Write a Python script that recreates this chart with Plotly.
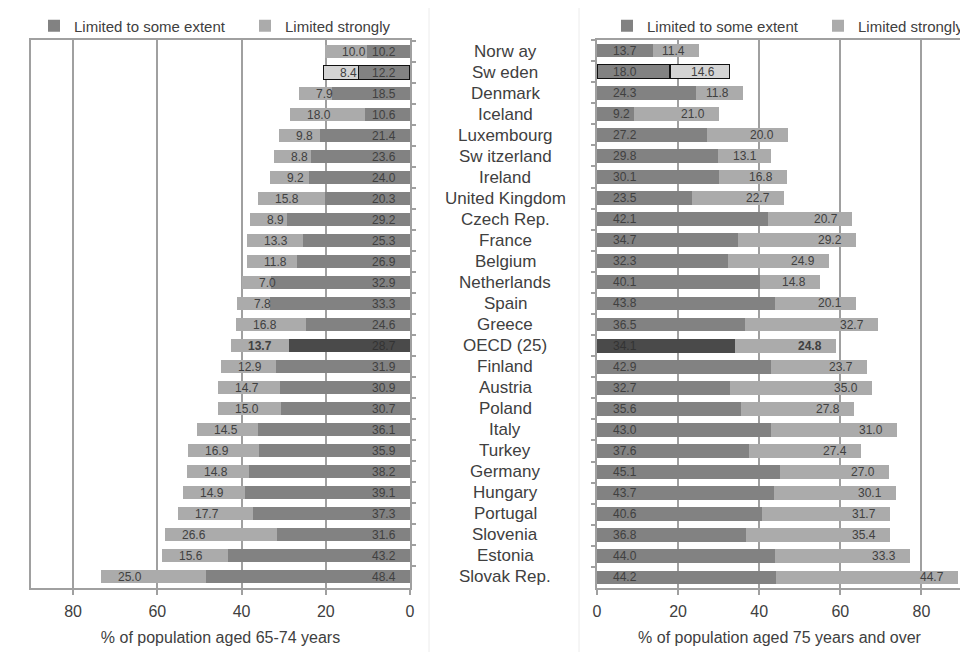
import plotly.graph_objects as go

countries = ["Norw ay", "Sw eden", "Denmark", "Iceland", "Luxembourg", "Sw itzerland", "Ireland",
             "United Kingdom", "Czech Rep.", "France", "Belgium", "Netherlands", "Spain", "Greece",
             "OECD (25)", "Finland", "Austria", "Poland", "Italy", "Turkey", "Germany", "Hungary",
             "Portugal", "Slovenia", "Estonia", "Slovak Rep."]

some_6574 = [10.2, 12.2, 18.5, 10.6, 21.4, 23.6, 24.0, 20.3, 29.2, 25.3, 26.9, 32.9, 33.3, 24.6,
             28.7, 31.9, 30.9, 30.7, 36.1, 35.9, 38.2, 39.1, 37.3, 31.6, 43.2, 48.4]
strong_6574 = [10.0, 8.4, 7.9, 18.0, 9.8, 8.8, 9.2, 15.8, 8.9, 13.3, 11.8, 7.0, 7.8, 16.8,
               13.7, 12.9, 14.7, 15.0, 14.5, 16.9, 14.8, 14.9, 17.7, 26.6, 15.6, 25.0]

some_75 = [13.7, 18.0, 24.3, 9.2, 27.2, 29.8, 30.1, 23.5, 42.1, 34.7, 32.3, 40.1, 43.8, 36.5,
           34.1, 42.9, 32.7, 35.6, 43.0, 37.6, 45.1, 43.7, 40.6, 36.8, 44.0, 44.2]
strong_75 = [11.4, 14.6, 11.8, 21.0, 20.0, 13.1, 16.8, 22.7, 20.7, 29.2, 24.9, 14.8, 20.1, 32.7,
             24.8, 23.7, 35.0, 27.8, 31.0, 27.4, 27.0, 30.1, 31.7, 35.4, 33.3, 44.7]

x_ticks = [0, 20, 40, 60, 80]

DARK = "#828282"
LIGHT = "#ababab"
SWE_LIGHT = "#d4d4d4"
OECD_DARK = "#4a4a4a"
TXT = "#404040"
GRID = "#a0a0a0"
FONT = "Liberation Sans, Arial, sans-serif"

W, H = 960, 644          # page body margin of 8px shifts the figure by (8, 8)
OFF = 8

def px(xpage):
    return (xpage - OFF) / W

dark_cols = [OECD_DARK if c.startswith("OECD") else DARK for c in countries]
light_cols = [SWE_LIGHT if c.startswith("Sw eden") else LIGHT for c in countries]
line_w = [1.3 if c.startswith("Sw eden") else 0 for c in countries]

fig = go.Figure()

for (some, strong, xa, ya, lg) in [(some_6574, strong_6574, "x", "y", "legend"),
                                   (some_75, strong_75, "x2", "y2", "legend2")]:
    fig.add_trace(go.Bar(y=countries, x=some, orientation="h", name="Limited to some extent",
                         marker=dict(color=dark_cols, line=dict(color="#111111", width=line_w)),
                         width=0.66, xaxis=xa, yaxis=ya, legend=lg))
    fig.add_trace(go.Bar(y=countries, x=strong, orientation="h", name="Limited strongly",
                         marker=dict(color=light_cols, line=dict(color="#111111", width=line_w)),
                         width=0.66, xaxis=xa, yaxis=ya, legend=lg))

annotations = []
for i, c in enumerate(countries):
    bold = c.startswith("OECD")
    annotations.append(dict(x=0, y=c, xref="x", yref="y", text=f"{some_6574[i]:.1f}",
                            xanchor="right", xshift=-12, showarrow=False,
                            font=dict(size=12, color="#333333" if bold else TXT, family=FONT)))
    t = f"{strong_6574[i]:.1f}"
    annotations.append(dict(x=some_6574[i] + strong_6574[i], y=c, xref="x", yref="y",
                            text=f"<b>{t}</b>" if bold else t,
                            xanchor="left", xshift=15, showarrow=False,
                            font=dict(size=12, color=TXT, family=FONT)))
    annotations.append(dict(x=0, y=c, xref="x2", yref="y2", text=f"{some_75[i]:.1f}",
                            xanchor="left", xshift=14, showarrow=False,
                            font=dict(size=12, color="#333333" if bold else TXT, family=FONT)))
    t = f"{strong_75[i]:.1f}"
    annotations.append(dict(x=some_75[i] + strong_75[i], y=c, xref="x2", yref="y2",
                            text=f"<b>{t}</b>" if bold else t,
                            xanchor="right", xshift=-12, showarrow=False,
                            font=dict(size=12, color=TXT, family=FONT)))
    annotations.append(dict(x=px(505), y=c, xref="paper", yref="y", text=c,
                            xanchor="center", showarrow=False,
                            font=dict(size=17, color=TXT, family=FONT)))

axis_common = dict(showline=True, linecolor=GRID, linewidth=1.5, mirror=True,
                   showgrid=True, gridcolor=GRID, gridwidth=1.5, zeroline=False,
                   tickvals=x_ticks, ticks="outside", ticklen=5, tickcolor=GRID, tickwidth=1.5,
                   automargin=False, ticklabelstandoff=3,
                   tickfont=dict(size=16, color=TXT, family=FONT))
yaxis_common = dict(type="category", autorange="reversed", showticklabels=False,
                    showline=True, linecolor=GRID, linewidth=1.5, mirror=True,
                    ticks="outside", tickson="boundaries", ticklen=4, tickcolor=GRID,
                    tickwidth=1.5, showgrid=False, zeroline=False, automargin=False)

legend_common = dict(orientation="h", xref="container", yref="container",
                     xanchor="left", y=1 - (26 - OFF) / H, yanchor="middle",
                     font=dict(size=15, color=TXT, family=FONT), bgcolor="rgba(0,0,0,0)",
                     itemwidth=30, traceorder="normal", entrywidth=166, entrywidthmode="pixels")

top_page, bottom_page = 40, 588
t_m = top_page - OFF
b_m = H - (bottom_page - OFF)

fig.update_layout(
    width=W, height=H,
    margin=dict(l=0, r=0, t=t_m, b=b_m, autoexpand=False),
    paper_bgcolor="white", plot_bgcolor="white",
    barmode="stack", bargap=0.3,
    font=dict(family=FONT, color=TXT),
    xaxis=dict(domain=[px(31), px(410)], range=[90, 0], anchor="y",
               title=dict(text="% of population aged 65-74 years", standoff=13,
                          font=dict(size=16, color=TXT, family=FONT)), **axis_common),
    yaxis=dict(domain=[0, 1], anchor="x", side="right", **yaxis_common),
    xaxis2=dict(domain=[px(597), px(962)], range=[0, 90], anchor="y2",
                title=dict(text="% of population aged 75 years and over", standoff=13,
                           font=dict(size=16, color=TXT, family=FONT)), **axis_common),
    yaxis2=dict(domain=[0, 1], anchor="x2", side="left", **yaxis_common),
    legend=dict(x=(26) / W, **legend_common),
    legend2=dict(x=(599) / W, **legend_common),
    annotations=annotations,
    showlegend=True,
)

shapes = [
    dict(type="line", xref="paper", yref="paper", x0=px(429), x1=px(429), y0=-b_m / 548,
         y1=1 + t_m / 548, line=dict(color="#ececec", width=1)),
    dict(type="line", xref="paper", yref="paper", x0=px(579), x1=px(579), y0=-b_m / 548,
         y1=1 + t_m / 548, line=dict(color="#ececec", width=1)),
]
fig.update_layout(shapes=shapes)

fig.write_html("out.html")
